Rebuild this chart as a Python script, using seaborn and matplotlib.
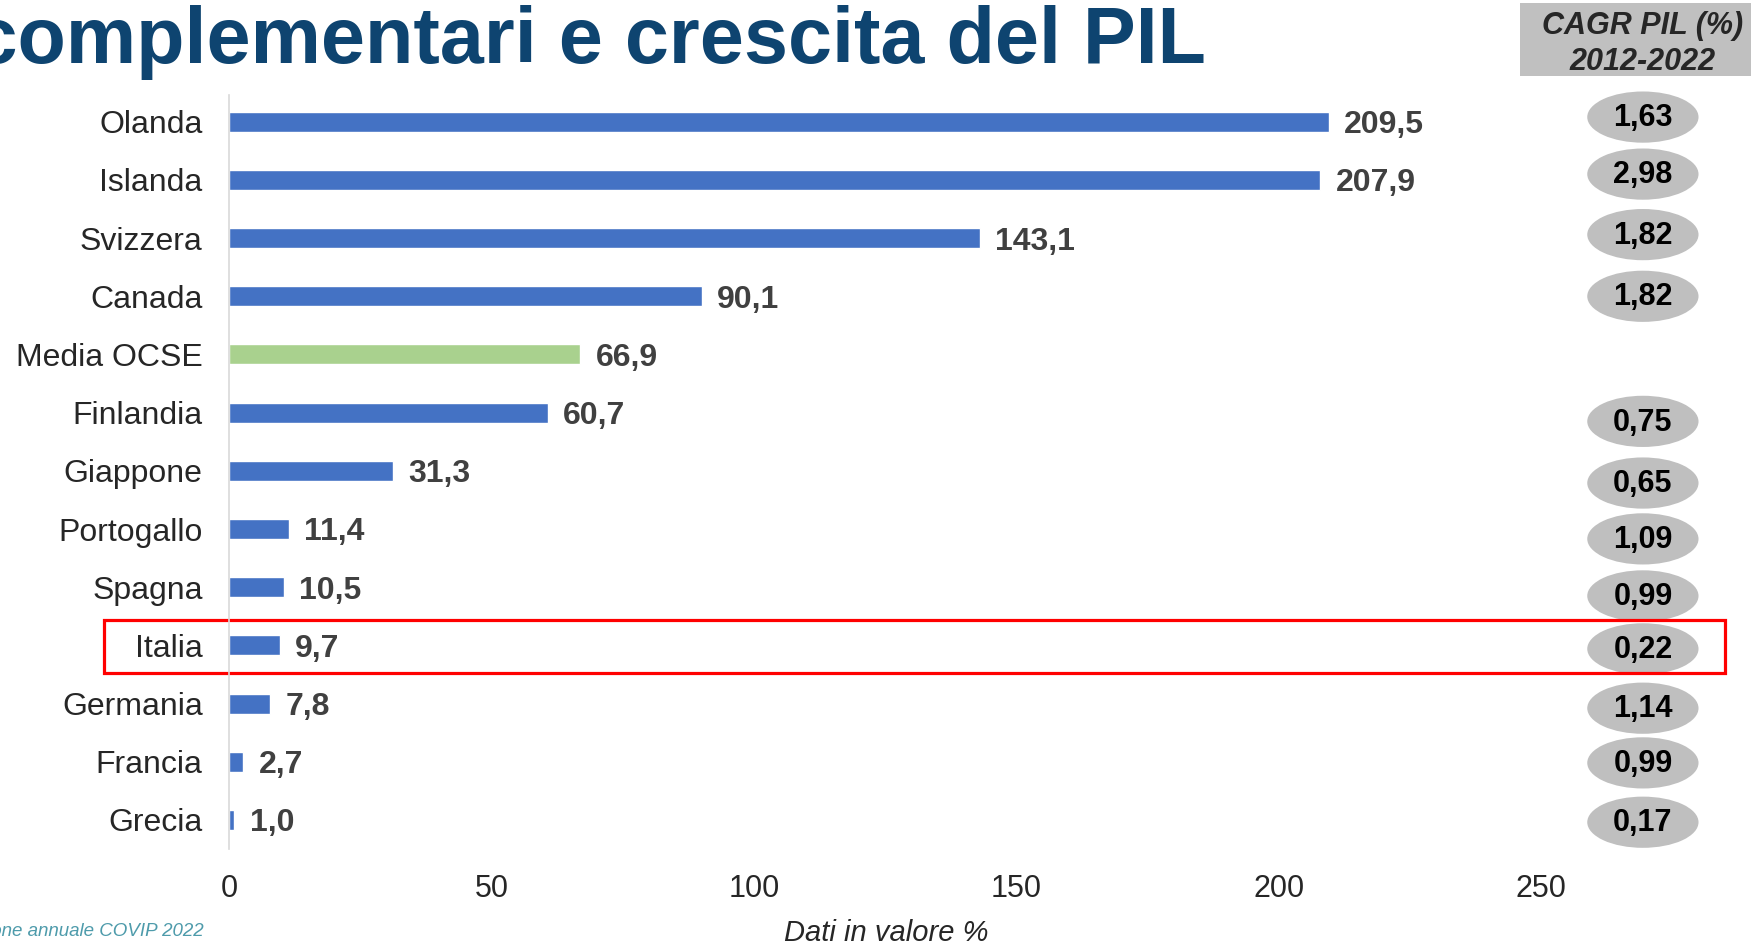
import matplotlib
matplotlib.use("Agg")
import matplotlib.pyplot as plt
from matplotlib.patches import Ellipse, Rectangle
import numpy as np
import pandas as pd
import seaborn as sns

# data
paesi = ['Olanda', 'Islanda', 'Svizzera', 'Canada', 'Media OCSE', 'Finlandia',
         'Giappone', 'Portogallo', 'Spagna', 'Italia', 'Germania', 'Francia', 'Grecia']
valori = [209.5, 207.9, 143.1, 90.1, 66.9, 60.7, 31.3, 11.4, 10.5, 9.7, 7.8, 2.7, 1.0]
cagr = [1.63, 2.98, 1.82, 1.82, None, 0.75, 0.65, 1.09, 0.99, 0.22, 1.14, 0.99, 0.17]
x_ticks = [0, 50, 100, 150, 200, 250]

# the ellipses on the slide are not quite aligned with the bars
cagr_dy = [-0.08, -0.1, -0.06, 0.0, 0.0, 0.15, 0.21, 0.17, 0.15, 0.06, 0.08, 0.02, 0.04]

blu = '#4472c4'
verde = '#a9d18e'
colori = [verde if p == 'Media OCSE' else blu for p in paesi]

sns.set_style("white")
plt.rcParams['font.family'] = ['Liberation Sans', 'DejaVu Sans']

df = pd.DataFrame({'paese': paesi, 'valore': valori})

fig = plt.figure(figsize=(17.51, 9.47), dpi=100)
ax = fig.add_axes([0.1308, 0.1035, 0.8692, 0.7962])

sns.barplot(data=df, x='valore', y='paese', hue='paese', palette=colori,
            orient='h', width=0.345, legend=False, ax=ax, saturation=1)

ax.set_xlim(0, 290)
ax.set_ylim(12.5, -0.46)
ax.set_xticks(x_ticks)
ax.set_xlabel('')
ax.set_ylabel('')
ax.tick_params(axis='x', labelsize=22, pad=18, length=0)
ax.tick_params(axis='y', labelsize=23, pad=19, length=0)
for s in ['top', 'right', 'bottom']:
    ax.spines[s].set_visible(False)
ax.spines['left'].set_color('#d9d9d9')
ax.spines['left'].set_linewidth(1.2)

# value labels
for i, v in enumerate(valori):
    ax.annotate(f"{v:.1f}".replace('.', ','), xy=(v, i), xytext=(11, -2.5),
                textcoords='offset points', va='center', ha='left',
                fontsize=23, fontweight='bold', color='#404040')

# CAGR ellipses
for i, c in enumerate(cagr):
    if c is None:
        continue
    yc = i + cagr_dy[i]
    ax.add_patch(Ellipse((269.4, yc), 21.2, 0.88, facecolor='#bfbfbf',
                         edgecolor='none', clip_on=False))
    ax.text(269.4, yc + 0.02, f"{c:.2f}".replace('.', ','), ha='center', va='center',
            fontsize=22, fontweight='bold', color='black', clip_on=False)

# Italia highlight
ax.add_patch(Rectangle((-23.8, 8.56), 308.9, 0.91, fill=False, edgecolor='#ff0000',
                       linewidth=2.3, clip_on=False))

# header box
fig.patches.append(Rectangle((0.868, 0.9197), 0.14, 0.0771, transform=fig.transFigure,
                             facecolor='#c0c0c0', edgecolor='none'))
fig.text(0.9383, 0.9535, 'CAGR PIL (%)\n2012-2022', ha='center', va='center',
         fontsize=22, fontweight='bold', fontstyle='italic', linespacing=1.27)

# title (cut off at the left like the slide)
fig.text(1206 / 1751, 0.9335, 'Forme pensionistiche complementari e crescita del PIL',
         ha='right', va='baseline', fontsize=57, fontweight='bold', color='#0e4470')

fig.text(886 / 1751, 0.015, 'Dati in valore %', ha='center', va='center',
         fontsize=21, fontstyle='italic')
fig.text(204 / 1751, 0.016, 'Fonte: Relazione annuale COVIP 2022', ha='right', va='center',
         fontsize=13.5, fontstyle='italic', color='#4e9bab')

fig.savefig('out.png', dpi=100)
